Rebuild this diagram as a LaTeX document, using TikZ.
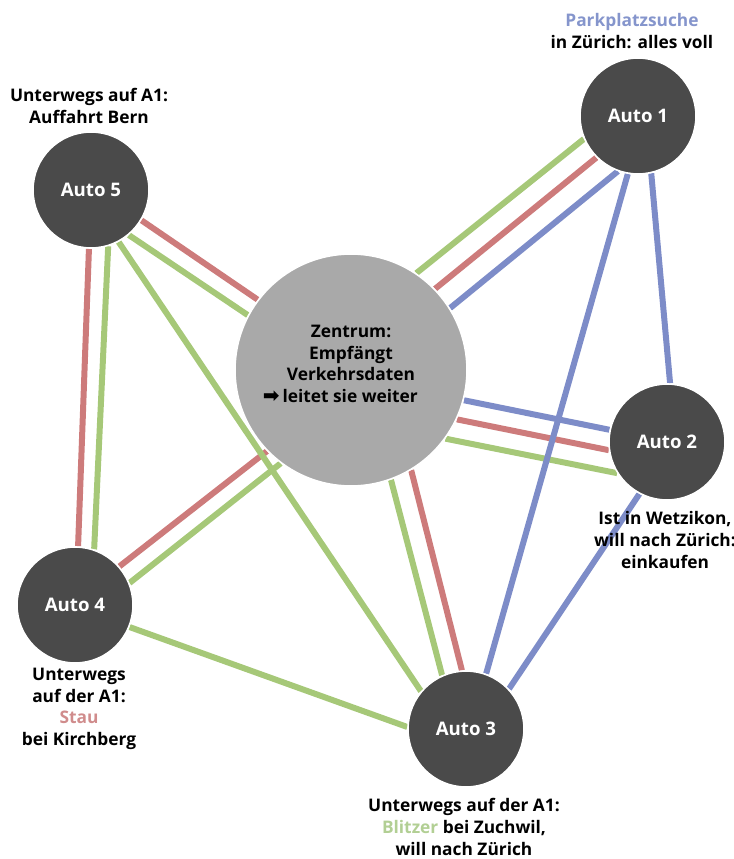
\documentclass[tikz,border=0pt]{standalone}
\usepackage{fontspec}
\setmainfont{Open Sans}
\newfontfamily\djv{DejaVu Sans}
\usetikzlibrary{backgrounds}
\definecolor{lgreen}{HTML}{A6C878}
\definecolor{lred}{HTML}{CD7B7B}
\definecolor{lblue}{HTML}{7D8CC8}
\definecolor{carfill}{HTML}{4A4A4A}
\definecolor{hubfill}{HTML}{A9A9A9}
\definecolor{tgreen}{HTML}{B2CF94}
\definecolor{tred}{HTML}{D08C8C}
\definecolor{tblue}{HTML}{8595CC}
\begin{document}
\begin{tikzpicture}[x=0.75pt,y=-0.75pt,
  car/.style={circle, fill=carfill, draw=white, line width=1.2pt, minimum size=87pt, inner sep=0pt,
    text=white, font=\bfseries\fontsize{14}{16}\selectfont},
  hubnode/.style={circle, fill=hubfill, draw=white, line width=1.2pt, minimum size=174pt, inner sep=0pt},
  lbl/.style={align=center, inner sep=0pt, font=\bfseries\fontsize{13}{16.2}\selectfont},
  link/.style={line width=4.5pt},
  gl/.style={link, draw=lgreen},
  rl/.style={link, draw=lred},
  bl/.style={link, draw=lblue}]
\useasboundingbox (0,0) rectangle (734,859);
% nodes
\node[car] (A1) at (638,116) {Auto 1};
\node[car] (A5) at (91,190) {Auto 5};
\node[hubnode] (Z) at (351,370) {};
\node[lbl] (Zt) at (351,364) {Zentrum:\\Empfängt\\Verkehrsdaten\\{\djv\fontsize{15}{12}\selectfont ➡}\,leitet sie weiter\hspace*{16pt}};
\node[car] (A2) at (667,442) {Auto 2};
\node[car] (A4) at (75,605) {Auto 4};
\node[car] (A3) at (466,729) {Auto 3};
% labels
\node[lbl] (L1) at (632,31) {\textcolor{tblue}{Parkplatzsuche}\\in Zürich: alles voll};
\node[lbl] (L5) at (89,106) {Unterwegs auf A1:\\Auffahrt Bern};
\node[lbl] (L2) at (665,540) {Ist in Wetzikon,\\will nach Zürich:\\einkaufen};
\node[lbl] (L4) at (79,709) {Unterwegs\\auf der A1:\\\textcolor{tred}{Stau}\\bei Kirchberg};
\node[lbl] (L3) at (464,827) {Unterwegs auf der A1:\\\textcolor{tgreen}{Blitzer} bei Zuchwil,\\will nach Zürich};
% connectors
\begin{scope}[on background layer]
\draw[gl] (Z.56) -- (A1.203);
\draw[rl] (Z.44) -- (A1.225);
\draw[bl] (Z.32) -- (A1.250);
\draw[bl] (Z.-15) -- (A2.168);
\draw[rl] (Z.-25) -- (A2.188);
\draw[gl] (Z.-36) -- (A2.212);
\draw[gl] (Z.-70) -- (A3.114);
\draw[rl] (Z.-59) -- (A3.94);
\draw[rl] (A5.-31) -- (Z.143);
\draw[gl] (A5.-50) -- (Z.152);
\draw[rl] (A5.268) -- (A4.87);
\draw[gl] (A5.287) -- (A4.71);
\draw[rl] (Z.224) -- (A4.41);
\draw[gl] (Z.233) -- (A4.22);
\draw[gl] (A5.-62) -- (A3.140);
\draw[gl] (A4.-22) -- (A3.178);
\draw[bl] (A1.260) -- (A3.70);
\draw[bl] (A1.283) -- (A2.87);
\draw[bl] (A2.242) -- (A3.43);
\end{scope}
\end{tikzpicture}
\end{document}
